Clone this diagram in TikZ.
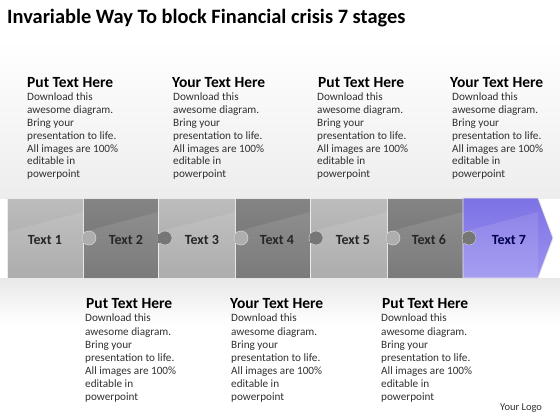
\documentclass[tikz,border=0pt]{standalone}
\usepackage{fontspec}
\setmainfont{Carlito}
\definecolor{lightA}{HTML}{BDBDBD}
\definecolor{lightB}{HTML}{A4A4A4}
\definecolor{darkA}{HTML}{858585}
\definecolor{darkB}{HTML}{6C6C6C}
\definecolor{purpA}{HTML}{7C72E4}
\definecolor{purpB}{HTML}{9C93F0}
\definecolor{bodytxt}{HTML}{303030}
\tikzset{
  lightpiece/.style={top color=lightA, bottom color=lightB, draw=white!85!gray, line width=0.8pt},
  darkpiece/.style={top color=darkA, bottom color=darkB, draw=white!80!gray, line width=0.8pt},
  purppiece/.style={top color=purpA, bottom color=purpB, draw=white!80!gray, line width=0.8pt},
  lknob/.style={fill=lightB!60!lightA, draw=white!70!gray, line width=0.5pt},
  dknob/.style={fill=darkB!60!darkA, draw=white!60!gray, line width=0.5pt},
  lbl/.style={font=\fontsize{14}{16}\selectfont\bfseries, text=black!85},
  head/.style={font=\fontsize{15.5}{18}\selectfont\bfseries, anchor=west, inner sep=0pt},
  bodyt/.style={font=\fontsize{11.2}{12.8}\selectfont, text=bodytxt, anchor=north west, inner sep=0pt, align=left},
  bodytl/.style={bodyt, font=\fontsize{11.2}{13.1}\selectfont},
}
\newcommand{\bodytext}{Download this\\awesome diagram.\\Bring your\\presentation to life.\\All images are 100\%\\editable in\\powerpoint}
\begin{document}
\begin{tikzpicture}[x=1pt,y=-1pt]
\useasboundingbox (0,0) rectangle (560,420);
% background
\shade[top color=white, bottom color=black!7] (0,40) rectangle (560,198);
\shade[top color=black!9, bottom color=white] (0,278) rectangle (560,325);
% title
\node[anchor=base west, inner sep=0pt, font=\fontsize{20.4}{24}\selectfont\bfseries] (title) at (7,23.5) {Invariable Way To block Financial crisis 7 stages};
% pieces
\path[lightpiece] (7,198) rectangle (83,278);
\path[darkpiece] (83,198) rectangle (158,278);
\path[lightpiece] (158,198) rectangle (235,278);
\path[darkpiece] (235,198) rectangle (310,278);
\path[lightpiece] (310,198) rectangle (387,278);
\path[darkpiece] (387,198) rectangle (463,278);
\path[purppiece] (463,198) -- (538,198) -- (553,238) -- (538,278) -- (463,278) -- cycle;
% highlights
\foreach \a/\b in {7/83,83/158,158/235,235/310,310/387,387/463,463/538}{
  \fill[white, opacity=0.10] (\a,232) -- (\b,212) -- (\b,278) -- (\a,278) -- cycle;
}
% knobs
\path[lknob] (89,238) circle (7);
\path[dknob] (165,238) circle (7);
\path[lknob] (241,238) circle (7);
\path[dknob] (316,238) circle (7);
\path[lknob] (393,238) circle (7);
\path[dknob] (469,238) circle (7);
\fill[lightB!60!lightA] (82.5,233.5) rectangle (85,242.5);
\fill[darkB!60!darkA] (157.5,233.5) rectangle (160,242.5);
\fill[lightB!60!lightA] (234.5,233.5) rectangle (237,242.5);
\fill[darkB!60!darkA] (309.5,233.5) rectangle (312,242.5);
\fill[lightB!60!lightA] (386.5,233.5) rectangle (389,242.5);
\fill[darkB!60!darkA] (462.5,233.5) rectangle (465,242.5);
% labels
\node[lbl] (t1) at (45,240) {Text 1};
\node[lbl] (t2) at (126,240) {Text 2};
\node[lbl] (t3) at (202,240) {Text 3};
\node[lbl] (t4) at (277,240) {Text 4};
\node[lbl] (t5) at (353,240) {Text 5};
\node[lbl] (t6) at (429,240) {Text 6};
\node[lbl, text=black!70!blue] (t7) at (509,240) {Text 7};
% upper text blocks
\node[head] (h1) at (27,83) {Put Text Here};
\node[bodyt] (b1) at (27,93) {\bodytext};
\node[head] (h2) at (172,83) {Your Text Here};
\node[bodyt] (b2) at (173,93) {\bodytext};
\node[head] (h3) at (318,83) {Put Text Here};
\node[bodyt] (b3) at (317,93) {\bodytext};
\node[head] (h4) at (450,83) {Your Text Here};
\node[bodyt] (b4) at (452,93) {\bodytext};
% lower text blocks
\node[head] (h5) at (86,304) {Put Text Here};
\node[bodytl] (b5) at (85,314) {\bodytext};
\node[head] (h6) at (230,304) {Your Text Here};
\node[bodytl] (b6) at (231,314) {\bodytext};
\node[head] (h7) at (382,304) {Put Text Here};
\node[bodytl] (b7) at (381,314) {\bodytext};
% logo
\node[anchor=west, inner sep=0pt, font=\fontsize{10.5}{12}\selectfont, text=black!80] (logo) at (500,408) {Your Logo};
\end{tikzpicture}
\end{document}
